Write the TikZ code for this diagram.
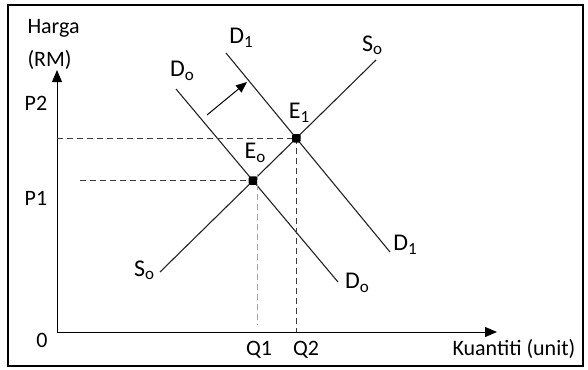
\documentclass[tikz,border=0pt]{standalone}
\usepackage{fontspec}
\setmainfont{Carlito}
\usetikzlibrary{arrows.meta, positioning, intersections}
\definecolor{curvecol}{RGB}{35,35,35}
\definecolor{guidecol}{RGB}{60,60,60}
\definecolor{guidelight}{RGB}{165,165,165}
\newcommand{\crvlbl}[2]{#1\raisebox{-0.3ex}{\fontsize{17}{17}\selectfont #2}}

\begin{document}
\begin{tikzpicture}[x=1pt, y=-1pt, line width=1pt,
    curve/.style={curvecol, line width=1.1pt},
    guide/.style={guidecol, dash pattern=on 6pt off 4pt},
    axlbl/.style={font=\fontsize{22}{26}\selectfont, inner sep=0pt},
    crvname/.style={font=\fontsize{24}{27}\selectfont, inner sep=0pt},
    eqpt/.style={fill=black, rounded corners=1.5pt, minimum size=8.5pt, inner sep=0pt}]
  \useasboundingbox (0,0) rectangle (588,369);
  \draw[line width=2pt] (8,5) rectangle (583,366);

  % axes
  \coordinate (O) at (57,332);
  \coordinate (ytop) at (57,70);
  \coordinate (xend) at (497,332);
  \draw[-{Triangle[length=12pt,width=10pt]}] (O) -- (ytop);
  \draw[-{Triangle[length=12pt,width=10pt]}] (O) -- (xend);

  % supply and demand
  \draw[curve, name path=s0] (160,272) coordinate (s0a) -- (376,60) coordinate (s0b);
  \draw[curve, name path=d0] (176,89) coordinate (d0a) -- (338,282) coordinate (d0b);
  \draw[curve, name path=d1] (226,53) coordinate (d1a) -- (390,252) coordinate (d1b);
  \path[name intersections={of=s0 and d0, by=E0}];
  \path[name intersections={of=s0 and d1, by=E1}];

  % shift
  \coordinate (shA) at (207,115);
  \coordinate (shB) at (247,82);
  \draw[-{Triangle[length=11pt,width=9pt]}] (shA) -- (shB);

  % guides
  \coordinate (p1s) at (80,0 |- E0);
  \draw[guide] (O |- E1) -- (E1);
  \draw[guide] (E1) -- (E1 |- O);
  \draw[guide] (p1s) -- (E0);
  \draw[guide, guidelight] ([xshift=5pt,yshift=7pt]E0) -- ([xshift=5pt]E0 |- 0,325);

  \node[eqpt] (e0pt) at (E0) {};
  \node[eqpt] (e1pt) at (E1) {};

  % axis labels
  \node[axlbl, anchor=west] (harga) at (27,28) {Harga};
  \node[axlbl, anchor=west] (rm) at (27,60) {(RM)};
  \node[axlbl] (p2) at (36,103) {P2};
  \node[axlbl] (p1) at (36,198) {P1};
  \node[axlbl] (zero) at (42,340) {0};
  \node[axlbl] (q1) at (259,350) {Q1};
  \node[axlbl] (q2) at (306,350) {Q2};
  \node[axlbl, anchor=west] (kuan) at (452,349) {Kuantiti (unit)};

  % curve labels
  \node[crvname] (d1top) at (241,38) {\crvlbl{D}{1}};
  \node[crvname] (d0top) at (182,71) {\crvlbl{D}{o}};
  \node[crvname] (e1lbl) at (299,113) {\crvlbl{E}{1}};
  \node[crvname] (e0lbl) at (255,153) {\crvlbl{E}{o}};
  \node[crvname] (d1bot) at (405,245) {\crvlbl{D}{1}};
  \node[crvname] (d0bot) at (357,283) {\crvlbl{D}{o}};
  \node[crvname] (s0top) at (372,45) {\crvlbl{S}{o}};
  \node[crvname] (s0bot) at (144,270) {\crvlbl{S}{o}};
\end{tikzpicture}
\end{document}
